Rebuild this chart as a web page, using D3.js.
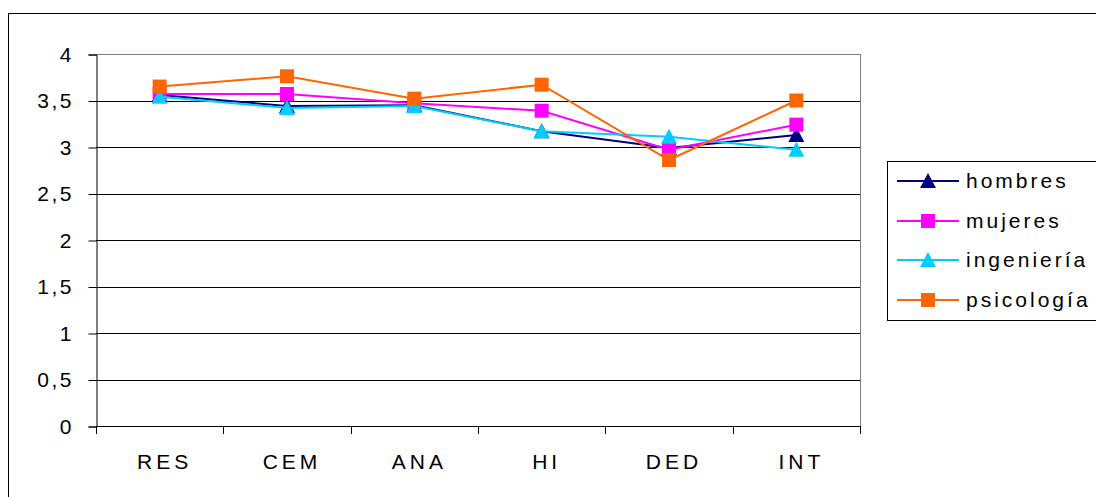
<!DOCTYPE html>
<html>
  <head>
    <meta charset="utf-8">
    <title>hombres / mujeres / ingeniería / psicología</title>
    <style>
      body, html { margin: 0; padding: 0; background: #fff; }
      svg { display: block; font-family: 'Liberation Sans', Arial, sans-serif; }
    </style>
  </head>
  <body>
    <svg id="svg" width="1096" height="497"></svg>
    <script src="https://cdn.jsdelivr.net/npm/d3@7"></script>
    <script>
      const categories = ['RES', 'CEM', 'ANA', 'HI', 'DED', 'INT'];
      const yTicks = [0, 0.5, 1, 1.5, 2, 2.5, 3, 3.5, 4];

      const hombres = [3.56, 3.44, 3.45, 3.17, 2.99, 3.13];
      const mujeres = [3.57, 3.57, 3.47, 3.39, 2.97, 3.24];
      const ingenieria = [3.54, 3.42, 3.44, 3.17, 3.11, 2.97];
      const psicologia = [3.65, 3.76, 3.52, 3.67, 2.86, 3.50];

      const series = [
        { name: 'hombres', values: hombres, color: '#000080', marker: 'triangle' },
        { name: 'mujeres', values: mujeres, color: '#ff00ff', marker: 'square' },
        { name: 'ingeniería', values: ingenieria, color: '#00ccff', marker: 'triangle' },
        { name: 'psicología', values: psicologia, color: '#ff6600', marker: 'square' }
      ];

      const plotLeft = 96, plotRight = 860, plotTop = 54, plotBottom = 426;
      const fontSize = 21, spacing = 4, ySpacing = 2.5;
      const svg = d3.select('#svg');

      // outer chart border
      svg.append('rect')
        .attr('x', 8.5).attr('y', 13.5)
        .attr('width', 1100).attr('height', 500)
        .attr('fill', 'none').attr('stroke', '#000');

      const x = d3.scaleBand().domain(categories).range([plotLeft, plotRight]);
      const y = d3.scaleLinear().domain([0, 4]).range([plotBottom, plotTop]);

      // gridlines
      svg.append('g')
        .selectAll('line')
        .data(yTicks)
        .join('line')
        .attr('x1', plotLeft).attr('x2', plotRight)
        .attr('y1', d => Math.round(y(d)) + 0.5)
        .attr('y2', d => Math.round(y(d)) + 0.5)
        .attr('stroke', d => d === 4 ? '#808080' : '#000')
        .attr('stroke-width', 1);

      // plot border right side
      svg.append('line')
        .attr('x1', plotRight + 0.5).attr('x2', plotRight + 0.5)
        .attr('y1', plotTop).attr('y2', plotBottom)
        .attr('stroke', '#808080');

      // y axis
      const yAxis = svg.append('g')
        .attr('transform', `translate(${plotLeft + 0.5},0.5)`)
        .call(d3.axisLeft(y)
          .tickValues(yTicks)
          .tickSize(8)
          .tickPadding(17 - ySpacing)
          .tickFormat(d => String(d).replace('.', ',')));
      yAxis.select('.domain').attr('stroke', '#000');
      yAxis.selectAll('text')
        .attr('font-size', fontSize)
        .attr('letter-spacing', ySpacing)
        .attr('fill', '#000')
        .attr('font-family', 'Liberation Sans, Arial, sans-serif');

      // x axis
      const xAxis = svg.append('g')
        .attr('transform', `translate(0,${Math.round(plotBottom) + 0.5})`)
        .call(d3.axisBottom(x).tickSize(0).tickPadding(28));
      xAxis.select('.domain').attr('d', `M${plotLeft},0H${plotRight}`).attr('stroke', '#000');
      xAxis.selectAll('text')
        .attr('font-size', fontSize)
        .attr('fill', '#000')
        .attr('letter-spacing', spacing)
        .attr('dx', spacing / 2 + 3)
        .attr('font-family', 'Liberation Sans, Arial, sans-serif');

      const boundaries = categories.map(c => x(c)).concat([plotRight]);
      svg.append('g')
        .selectAll('line')
        .data(boundaries)
        .join('line')
        .attr('x1', d => Math.round(d) + 0.5).attr('x2', d => Math.round(d) + 0.5)
        .attr('y1', plotBottom).attr('y2', plotBottom + 8)
        .attr('stroke', '#000');

      const markerPath = (type) => type === 'square'
        ? 'M-7,-7H7V7H-7Z'
        : 'M0,-8L8,7H-8Z';

      const line = d3.line()
        .x((d, i) => x(categories[i]) + x.bandwidth() / 2)
        .y(d => y(d));

      const plot = svg.append('g');
      series.forEach(s => {
        const g = plot.append('g');
        g.append('path')
          .attr('d', line(s.values))
          .attr('fill', 'none')
          .attr('stroke', s.color)
          .attr('stroke-width', 2);
        g.selectAll('path.mark')
          .data(s.values)
          .join('path')
          .attr('class', 'mark')
          .attr('d', markerPath(s.marker))
          .attr('transform', (d, i) => `translate(${x(categories[i]) + x.bandwidth() / 2},${y(d)})`)
          .attr('fill', s.color);
      });

      // legend
      const legend = svg.append('g');
      legend.append('rect')
        .attr('x', 887.5).attr('y', 161.5)
        .attr('width', 220).attr('height', 159)
        .attr('fill', '#fff').attr('stroke', '#000');

      const legendY = [181, 221, 260, 300];
      const items = legend.selectAll('g.item')
        .data(series)
        .join('g')
        .attr('class', 'item')
        .attr('transform', (d, i) => `translate(0,${legendY[i]})`);
      items.append('line')
        .attr('x1', 897).attr('x2', 959)
        .attr('y1', 0).attr('y2', 0)
        .attr('stroke', d => d.color)
        .attr('stroke-width', 2);
      items.append('path')
        .attr('d', d => markerPath(d.marker))
        .attr('transform', 'translate(928,0)')
        .attr('fill', d => d.color);
      items.append('text')
        .attr('x', 966)
        .attr('y', 0)
        .attr('dy', '0.35em')
        .attr('font-size', fontSize)
        .attr('letter-spacing', 3)
        .attr('fill', '#000')
        .text(d => d.name);
    </script>
  </body>
</html>
